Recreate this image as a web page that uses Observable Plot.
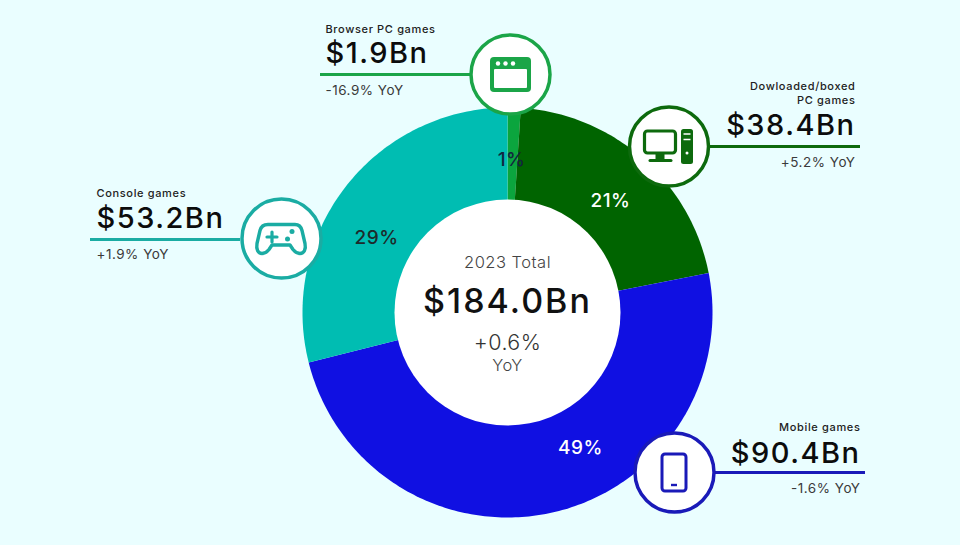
<!DOCTYPE html>
<html><head><meta charset="utf-8">
<script src="https://cdn.jsdelivr.net/npm/d3@7"></script>
<script src="https://cdn.jsdelivr.net/npm/@observablehq/plot@0.6"></script>
<style>html,body{margin:0;padding:0;background:#eafeff;overflow:hidden}svg{display:block}
.nm text{letter-spacing:.65px}.val text{letter-spacing:1.5px}.yy text{letter-spacing:.5px}.tot text{letter-spacing:2px}.sub text{letter-spacing:.4px}</style>
</head><body><div id="chart"></div>
<script>
// ---- data ----
const categories = ["Browser PC games", "Dowloaded/boxed PC games", "Mobile games", "Console games"];
const revenue = [1.9, 38.4, 90.4, 53.2];
const sharesText = ["1%", "21%", "49%", "29%"];
const revenueText = ["$1.9Bn", "$38.4Bn", "$90.4Bn", "$53.2Bn"];
const yoyText = ["-16.9% YoY", "+5.2% YoY", "-1.6% YoY", "+1.9% YoY"];
const totalLines = ["2023 Total", "$184.0Bn", "+0.6%", "YoY"];

// ---- layout / style ----
const FONT = "Inter, 'Noto Sans', sans-serif";
const sliceColors = ["#0ba53e", "#006400", "#1010e2", "#00bdb2"];
const accentColors = ["#1ba548", "#0d6a0d", "#1a1ab8", "#1aaca3"];
const center = [507, 312], outerR = 205, innerR = 113;
const pctPos = [[511,159],[610,200],[580,447],[376,237]];
const pctFill = ["#12263f","#ffffff","#ffffff","#1d2b2b"];
const badge = [[510,74],[668.5,146],[674,472],[281,238]];
const rules = [[320,470,74],[710,860,146],[715,865,472],[90,240,239]];
const labelAnchor = ["start","end","end","start"];
const labelX = [325,855,860,96];
const nameY = [[29],[86,100],[427],[193]];
const nameLines = [["Browser PC games"],["Dowloaded/boxed","PC games"],["Mobile games"],["Console games"]];
const valueY = [53,125,453,218];
const yoyY = [90,162,488,254];

const total = d3.sum(revenue);
let acc = 0;
const slicePts = [];
categories.forEach((c,i)=>{
  const a0 = acc/total*2*Math.PI; acc += revenue[i];
  const a1 = acc/total*2*Math.PI;
  const n = Math.max(4, Math.ceil((a1-a0)*60));
  const pts = d3.range(n+1).map(k=>a0+(a1-a0)*k/n);
  pts.forEach(a=>slicePts.push({c,i,x:center[0]+outerR*Math.sin(a),y:center[1]-outerR*Math.cos(a)}));
  slicePts.push({c,i,x:center[0],y:center[1]});
});
const idx = d3.range(categories.length);
const nameRows = idx.flatMap(i=>nameLines[i].map((t,k)=>({t,i,y:nameY[i][k]})));

const icons = [
 // browser
 `<rect x="-20" y="-17" width="41" height="35" rx="4" fill="C"/><rect x="-16" y="-5" width="33" height="19" rx="1" fill="#fff"/><circle cx="-12" cy="-10.5" r="2.2" fill="#fff"/><circle cx="-4.5" cy="-10.5" r="2.2" fill="#fff"/><circle cx="3" cy="-10.5" r="2.2" fill="#fff"/>`,
 // desktop
 `<rect x="-24" y="-15" width="31" height="22" rx="3" fill="none" stroke="C" stroke-width="3.2"/><path d="M-13 8h9v6h-9z" fill="C"/><rect x="-20" y="13" width="24" height="3" rx="1.5" fill="C"/><rect x="12.5" y="-17" width="12" height="35" rx="2.5" fill="C"/><path d="M15 -12h7M15 -6.5h7" stroke="#fff" stroke-width="1.6"/><circle cx="18.5" cy="7" r="1.5" fill="#fff"/>`,
 // phone
 `<rect x="-12" y="-18" width="24" height="37" rx="3" fill="none" stroke="C" stroke-width="3"/><path d="M-3 13h6" stroke="C" stroke-width="2.4"/>`,
 // gamepad
 `<path d="M-13 -13.5h27c4 0 6 2 7 6l3 13c1.2 6-1 10-5 10c-3 0-5-1.5-7-4l-3-4.5h-18l-3 4.5c-2 2.5-4 4-7 4c-4 0-6-4-5-10l3-13c1-4 3-6 8-6z" fill="none" stroke="C" stroke-width="3.4" stroke-linejoin="round"/><path d="M-9 -6v10M-14 -1h10" stroke="C" stroke-width="3.2" stroke-linecap="round"/><circle cx="11" cy="-6.5" r="2.5" fill="C"/><circle cx="6.5" cy="1" r="2.5" fill="C"/>`
];

const iconMark = (index, {x, y}) => {
  const g = d3.create("svg:g");
  idx.forEach(i=>{
    g.append("g").attr("transform",`translate(${x(badge[i][0])},${y(badge[i][1])})`)
      .html(icons[i].replace(/"C"/g,`"${accentColors[i]}"`));
  });
  return g.node();
};

const txt = (data, o) => Plot.text(data, {fontFamily:FONT, lineAnchor:"middle", ...o});

const plot = Plot.plot({
  width:960, height:545, margin:0,
  x:{domain:[0,960],range:[0,960],axis:null},
  y:{domain:[0,545],range:[0,545],axis:null},
  style:{background:"#eafeff"},
  marks:[
    Plot.line(slicePts,{x:"x",y:"y",z:"c",fill:d=>sliceColors[d.i],stroke:null}),
    Plot.dot([0],{x:()=>center[0],y:()=>center[1],r:innerR,fill:"#fff",stroke:null}),
    Plot.ruleY(idx,{x1:i=>rules[i][0],x2:i=>rules[i][1],y:i=>rules[i][2],stroke:i=>accentColors[i],strokeWidth:3}),
    Plot.dot(idx,{x:i=>badge[i][0],y:i=>badge[i][1],r:39.5,fill:"#fff",stroke:i=>accentColors[i],strokeWidth:3.5}),
    iconMark,
    txt(idx,{x:i=>pctPos[i][0],y:i=>pctPos[i][1],text:i=>sharesText[i],fill:i=>pctFill[i],fontSize:19,fontWeight:500,className:"yy"}),
    ...["start","end"].flatMap(a=>{
      const f=i=>labelAnchor[i]===a;
      return [
        txt(nameRows.filter(d=>f(d.i)),{x:d=>labelX[d.i],y:"y",text:"t",textAnchor:a,fontSize:11,fontWeight:500,fill:"#222",className:"nm"}),
        txt(idx.filter(f),{x:i=>labelX[i],y:i=>valueY[i],text:i=>revenueText[i],textAnchor:a,fontSize:29,fontWeight:500,fill:"#0c0c0c",className:"val"}),
        txt(idx.filter(f),{x:i=>labelX[i],y:i=>yoyY[i],text:i=>yoyText[i],textAnchor:a,fontSize:13.5,fontWeight:400,fill:"#3a3a3a",className:"yy"})
      ];
    }),
    txt([0],{x:()=>center[0],y:()=>262,text:()=>totalLines[0],fontSize:16.5,fontWeight:300,fill:"#444",className:"yy"}),
    txt([0],{x:()=>center[0],y:()=>302,text:()=>totalLines[1],fontSize:34,fontWeight:500,fill:"#111",className:"tot"}),
    txt([0],{x:()=>center[0],y:()=>343,text:()=>totalLines[2],fontSize:21.5,fontWeight:300,fill:"#333",className:"sub"}),
    txt([0],{x:()=>center[0],y:()=>365,text:()=>totalLines[3],fontSize:16.5,fontWeight:300,fill:"#444",className:"sub"})
  ]
});
document.getElementById("chart").append(plot);
</script></body></html>
